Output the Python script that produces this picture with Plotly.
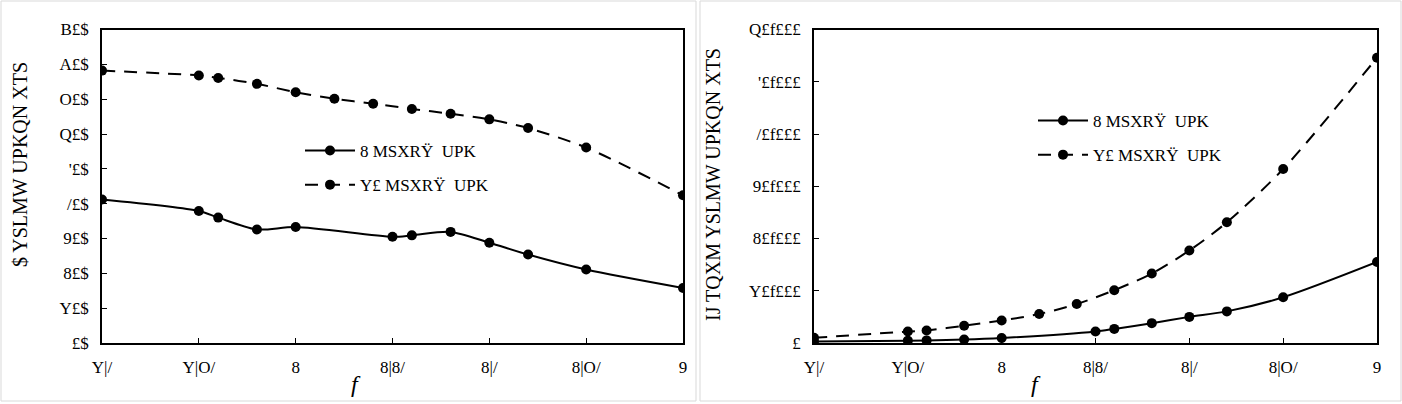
import plotly.graph_objects as go

# ---- data ----
x_ten = [1.5, 1.75, 1.8, 1.9, 2.0, 2.1, 2.2, 2.3, 2.4, 2.5, 2.6, 2.75, 3.0]
x_two = [1.5, 1.75, 1.8, 1.9, 2.0, 2.25, 2.3, 2.4, 2.5, 2.6, 2.75, 3.0]
left_ten = [78.2, 76.8, 76.1, 74.4, 72.0, 70.1, 68.7, 67.2, 65.8, 64.2, 61.7, 56.1, 42.4]
left_two = [41.2, 37.9, 36.0, 32.6, 33.3, 30.5, 30.9, 31.9, 28.8, 25.4, 21.1, 15.8]
right_ten = [1000, 2200, 2400, 3300, 4300, 5550, 7450, 10100, 13300, 17700, 23100, 33300, 54600]
right_two = [300, 450, 500, 650, 950, 2200, 2700, 3800, 5000, 6050, 8750, 15500]

x_tickvals = [1.5, 1.75, 2.0, 2.25, 2.5, 2.75, 3.0]
x_ticktext = ["Y|/", "Y|O/", "8", "8|8/", "8|/", "8|O/", "9"]
left_tickvals = [0, 10, 20, 30, 40, 50, 60, 70, 80, 90]
left_ticktext = ["£$", "Y£$", "8£$", "9£$", "/£$", "'£$", "Q£$", "O£$", "A£$", "B£$"]
right_tickvals = [0, 10000, 20000, 30000, 40000, 50000, 60000]
right_ticktext = ["£", "Y£f£££", "8£f£££", "9£f£££", "/£f£££", "'£f£££", "Q£f£££"]

name_two = "8 MSXRŸ  UPK"
name_ten = "Y£ MSXRŸ  UPK"
left_ytitle = "$ YSLMW UPKQN XTS"
right_ytitle = "IJ TQXM YSLMW UPKQN XTS"
x_title = "f"

W, H = 1402, 404
FONT = "Liberation Serif"

def px(x):
    return x / W

def py(y):
    return 1 - y / H

fig = go.Figure()

mk = dict(size=10, color="black")
common = dict(mode="lines+markers", line_shape="spline", marker=mk)
DASH = "13px,9px"

fig.add_trace(go.Scatter(x=x_two, y=left_two, name=name_two, xaxis="x", yaxis="y",
                         line=dict(color="black", width=2, smoothing=0.8),
                         legend="legend", legendgroup="a", **common))
fig.add_trace(go.Scatter(x=x_ten, y=left_ten, name=name_ten, xaxis="x", yaxis="y",
                         line=dict(color="black", width=2, dash=DASH, smoothing=0.8),
                         legend="legend", legendgroup="b", **common))
fig.add_trace(go.Scatter(x=x_two, y=right_two, name=name_two, xaxis="x2", yaxis="y2",
                         line=dict(color="black", width=2, smoothing=0.8),
                         legend="legend2", legendgroup="c", **common))
fig.add_trace(go.Scatter(x=x_ten, y=right_ten, name=name_ten, xaxis="x2", yaxis="y2",
                         line=dict(color="black", width=2, dash=DASH, smoothing=0.8),
                         legend="legend2", legendgroup="d", **common))

ax_common = dict(showline=True, linecolor="black", linewidth=1.5, mirror=True,
                 showgrid=False, zeroline=False, ticks="inside", ticklen=5,
                 automargin=False, ticklabelstandoff=8,
                 tickcolor="black", tickfont=dict(family=FONT, size=17, color="black"))

ydom = [py(343), py(29.5)]
fig.update_layout(
    width=W, height=H,
    margin=dict(l=0, r=0, t=0, b=0, autoexpand=False),
    paper_bgcolor="white", plot_bgcolor="white",
    xaxis=dict(domain=[px(102), px(683)], range=[1.5, 3.0], anchor="y",
               tickvals=x_tickvals, ticktext=x_ticktext, **ax_common),
    yaxis=dict(domain=ydom, range=[0, 90], anchor="x",
               tickvals=left_tickvals, ticktext=left_ticktext, **ax_common),
    xaxis2=dict(domain=[px(814), px(1377)], range=[1.5, 3.0], anchor="y2",
                tickvals=x_tickvals, ticktext=x_ticktext, **ax_common),
    yaxis2=dict(domain=ydom, range=[0, 60000], anchor="x2",
                tickvals=right_tickvals, ticktext=right_ticktext, **ax_common),
    legend=dict(x=px(300), y=py(133), xanchor="left", yanchor="top",
                bgcolor="rgba(0,0,0,0)", tracegroupgap=9, itemwidth=50,
                font=dict(family=FONT, size=17, color="black")),
    legend2=dict(x=px(1033), y=py(103), xanchor="left", yanchor="top",
                 bgcolor="rgba(0,0,0,0)", tracegroupgap=9, itemwidth=50,
                 font=dict(family=FONT, size=17, color="black")),
    shapes=[
        dict(type="rect", xref="paper", yref="paper", x0=px(1), x1=px(696), y0=py(401), y1=py(1),
             line=dict(color="#d9d9d9", width=1)),
        dict(type="rect", xref="paper", yref="paper", x0=px(700), x1=px(1401), y0=py(401), y1=py(1),
             line=dict(color="#d9d9d9", width=1)),
    ],
    annotations=[
        dict(text=left_ytitle, xref="paper", yref="paper", x=px(20), y=py(165), textangle=-90,
             xanchor="center", yanchor="middle",
             showarrow=False, font=dict(family=FONT, size=20, color="black")),
        dict(text=right_ytitle, xref="paper", yref="paper", x=px(713), y=py(184), textangle=-90,
             xanchor="center", yanchor="middle",
             showarrow=False, font=dict(family=FONT, size=20, color="black")),
        dict(text="<i>" + x_title + "</i>", xref="paper", yref="paper", x=px(356), y=py(384),
             xanchor="center", yanchor="middle",
             showarrow=False, font=dict(family=FONT, size=24, color="black")),
        dict(text="<i>" + x_title + "</i>", xref="paper", yref="paper", x=px(1036), y=py(384),
             xanchor="center", yanchor="middle",
             showarrow=False, font=dict(family=FONT, size=24, color="black")),
    ],
)

fig.write_html("out.html")
